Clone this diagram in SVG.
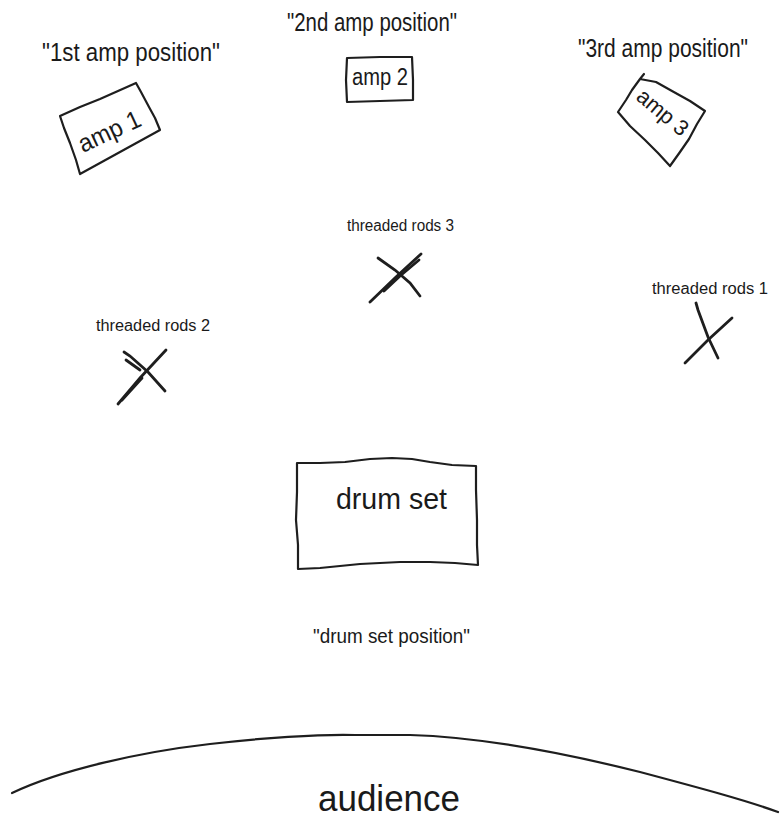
<svg xmlns="http://www.w3.org/2000/svg" width="781" height="819" viewBox="0 0 781 819">
<style>
  text { font-family: "Liberation Sans Narrow", "Liberation Sans", Arial, sans-serif; fill: #1a1a1a; }
  .ink { fill: none; stroke: #1e1e1e; stroke-width: 2.2; stroke-linejoin: round; stroke-linecap: round; }
  .rod { fill: none; stroke: #1e1e1e; stroke-width: 2.8; stroke-linecap: round; }
</style>
<rect width="781" height="819" fill="#ffffff"/>

<g id="labels">
  <text x="42" y="61" font-size="26" textLength="178" lengthAdjust="spacingAndGlyphs">"1st amp position"</text>
  <text x="287" y="31" font-size="26" textLength="170" lengthAdjust="spacingAndGlyphs">"2nd amp position"</text>
  <text x="578" y="57" font-size="25" textLength="170" lengthAdjust="spacingAndGlyphs">"3rd amp position"</text>
  <text x="313" y="643" font-size="21" textLength="157" lengthAdjust="spacingAndGlyphs">"drum set position"</text>
</g>

<g id="amp1">
  <path class="ink" d="M60,116 L80,107 L100,99 L118,91 L136,83 L141,92 L149,107 L155,118 L160,130 L140,141 L120,152 L100,163 L80,174 L76,160 L70,143 L64,128 Z"/>
  <text x="0" y="0" font-size="25" text-anchor="middle" textLength="66" lengthAdjust="spacingAndGlyphs" transform="translate(113,139) rotate(-25)">amp 1</text>
</g>

<g id="amp2">
  <path class="ink" d="M347,58 L380,57 L412,57 L413,80 L413,100 L380,101 L347,102 L346,80 Z"/>
  <text x="352" y="85" font-size="23" textLength="56" lengthAdjust="spacingAndGlyphs">amp 2</text>
</g>

<g id="amp3">
  <path class="ink" d="M644,74 L640,79 L656,82 L672,91 L690,101 L705,111 L697,124 L689,139 L680,152 L670,166 L658,153 L645,140 L630,126 L618,112 L626,100 L632,90 L640,79"/>
  <text x="0" y="0" font-size="22" text-anchor="middle" textLength="60" lengthAdjust="spacingAndGlyphs" transform="translate(658,118) rotate(40)">amp 3</text>
</g>

<g id="rods3">
  <text x="347" y="231" font-size="16" textLength="107" lengthAdjust="spacingAndGlyphs">threaded rods 3</text>
  <path class="rod" d="M370,302 L396,277 L421,254"/>
  <path class="rod" d="M419,260 L400,276 L384,291"/>
  <path class="rod" d="M378,258 L395,270 L410,283 L420,296"/>
</g>

<g id="rods2">
  <text x="96" y="331" font-size="16" textLength="114" lengthAdjust="spacingAndGlyphs">threaded rods 2</text>
  <path class="rod" d="M118,404 L140,378 L166,350"/>
  <path class="rod" d="M122,400 L142,378"/>
  <path class="rod" d="M124,352 L130,356 L148,372 L165,391"/>
  <path class="rod" d="M126,360 L140,370"/>
</g>

<g id="rods1">
  <text x="652" y="294" font-size="16" textLength="116" lengthAdjust="spacingAndGlyphs">threaded rods 1</text>
  <path class="rod" d="M685,363 L708,340 L732,318"/>
  <path class="rod" d="M696,303 L698,310 L708,337 L718,358"/>
</g>

<g id="drumset">
  <path class="ink" d="M297,463 L320,463 L345,462 L370,459 L392,458 L412,459 L430,462 L452,465 L476,466 L476,490 L477,520 L477,545 L478,565 L455,563 L430,562 L400,562 L380,563 L360,564 L340,566 L320,568 L298,569 L298,545 L296,520 L297,492 Z"/>
  <text x="336" y="509" font-size="30" textLength="111" lengthAdjust="spacingAndGlyphs">drum set</text>
</g>

<g id="audience">
  <path class="ink" d="M12,793 C60,770 140,752 210,744 C260,738 320,734 355,735 L410,735 C480,737 560,752 640,772 C700,788 745,800 778,812"/>
  <text x="318" y="811" font-size="36" textLength="142" lengthAdjust="spacingAndGlyphs">audience</text>
</g>
</svg>
